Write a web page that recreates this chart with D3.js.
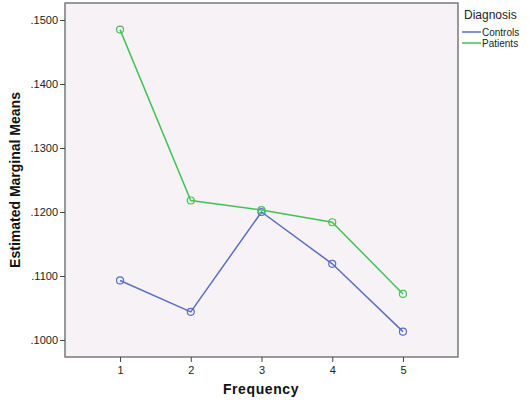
<!DOCTYPE html>
<html>
<head>
<meta charset="utf-8">
<script src="https://d3js.org/d3.v7.min.js"></script>
<style>
  body { margin:0; background:#fff; }
  text { font-family: "Liberation Sans", Arial, sans-serif; }
</style>
</head>
<body>
<svg id="chart" width="529" height="402"></svg>
<script>
// data
const frequency = [1, 2, 3, 4, 5];
const controls = [0.1093, 0.1044, 0.1200, 0.1119, 0.1013];
const patients = [0.1485, 0.1218, 0.1203, 0.1184, 0.1072];
const yTicks = [0.10, 0.11, 0.12, 0.13, 0.14, 0.15];
const seriesNames = ['Controls', 'Patients'];
const seriesColors = ['#5a6ec6', '#45c256'];

const svg = d3.select('#chart');
const margin = {top:3, left:65, right:71, bottom:45};
const width = 529, height = 402;
const innerW = width - margin.left - margin.right;
const innerH = height - margin.top - margin.bottom;

const x = d3.scaleLinear().domain([0.222, 5.778]).range([0, innerW]);
const y = d3.scaleLinear().domain([0.09734, 0.15266]).range([innerH, 0]);

const g = svg.append('g').attr('transform', `translate(${margin.left},${margin.top})`);

g.append('rect')
  .attr('width', innerW).attr('height', innerH)
  .attr('fill', '#f6f2f6').attr('stroke', '#7a7a7a').attr('stroke-width', 1.5);

// axes
const yaxis = d3.axisLeft(y).tickValues(yTicks)
  .tickFormat(d => d3.format('.4f')(d).replace(/^0/, '')).tickSize(5).tickPadding(2);
g.append('g').call(yaxis)
  .call(a => a.select('.domain').remove())
  .call(a => a.selectAll('.tick line').attr('stroke', '#444'))
  .call(a => a.selectAll('.tick text').attr('font-size', 11).attr('fill', '#222'));

const xaxis = d3.axisBottom(x).tickValues(frequency).tickFormat(d3.format('d')).tickSize(5).tickPadding(4);
g.append('g').attr('transform', `translate(0,${innerH})`).call(xaxis)
  .call(a => a.select('.domain').remove())
  .call(a => a.selectAll('.tick line').attr('stroke', '#444'))
  .call(a => a.selectAll('.tick text').attr('font-size', 11).attr('fill', '#222'));

// lines + markers
const line = d3.line().x((d, i) => x(frequency[i])).y(d => y(d));
[controls, patients].forEach((vals, k) => {
  g.append('path').datum(vals)
    .attr('d', line).attr('fill', 'none')
    .attr('stroke', seriesColors[k]).attr('stroke-width', 1.5);
  g.selectAll('.m' + k).data(vals).enter().append('circle')
    .attr('cx', (d, i) => x(frequency[i])).attr('cy', d => y(d))
    .attr('r', 3.5).attr('fill', 'none')
    .attr('stroke', seriesColors[k]).attr('stroke-width', 1.2);
});

// axis titles
svg.append('text').text('Estimated Marginal Means')
  .attr('transform', 'translate(20,180) rotate(-90)')
  .attr('text-anchor', 'middle').attr('font-size', 14).attr('font-weight', 'bold').attr('fill', '#111');
svg.append('text').text('Frequency')
  .attr('x', 261).attr('y', 394)
  .attr('text-anchor', 'middle').attr('font-size', 14).attr('font-weight', 'bold')
  .attr('letter-spacing', 0.6).attr('fill', '#111');

// legend
const lg = svg.append('g').attr('transform', 'translate(462,0)');
lg.append('text').text('Diagnosis').attr('x', 2).attr('y', 19)
  .attr('font-size', 12).attr('fill', '#222');
seriesNames.forEach((n, i) => {
  lg.append('line').attr('x1', 0).attr('x2', 19)
    .attr('y1', 32 + i * 11).attr('y2', 32 + i * 11)
    .attr('stroke', seriesColors[i]).attr('stroke-width', 1.5);
  lg.append('text').text(n).attr('x', 20).attr('y', 36 + i * 11)
    .attr('font-size', 10).attr('fill', '#222');
});
</script>
</body>
</html>
